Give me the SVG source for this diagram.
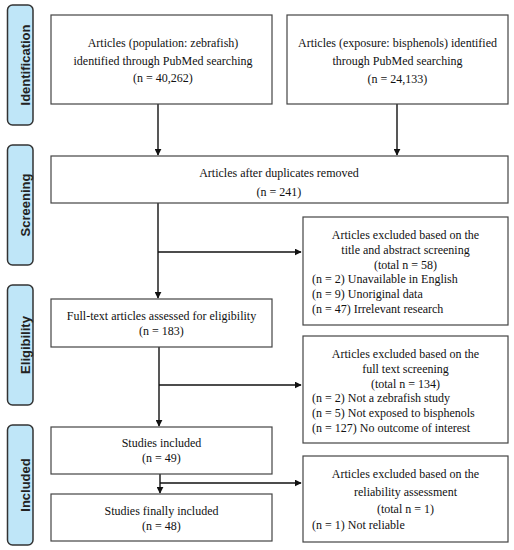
<svg xmlns="http://www.w3.org/2000/svg" width="514" height="550" viewBox="0 0 514 550">
<defs>
<style>
.box{fill:#fff;stroke:#444;stroke-width:1.2}
.side{fill:#bfe6f8;stroke:#333;stroke-width:1.5}
.t{font-family:"Liberation Serif","Times New Roman",serif;font-size:12px;fill:#111}
.c{text-anchor:middle}
.s{font-family:"Liberation Sans",Arial,sans-serif;font-size:13px;font-weight:bold;fill:#222;text-anchor:middle}
.ln{fill:none;stroke:#111;stroke-width:1.4}
</style>
<marker id="ah" viewBox="0 0 10 10" refX="9" refY="5" markerWidth="7" markerHeight="7" markerUnits="userSpaceOnUse" orient="auto">
<path d="M0,0 L10,5 L0,10 z" fill="#111"/>
</marker>
</defs>
<rect width="514" height="550" fill="#fff"/>

<g id="phase-identification"><rect class="side" x="7.5" y="5" width="25.5" height="120" rx="5"/><text class="s" transform="translate(29.5,65) rotate(-90)">Identification</text></g>
<g id="phase-screening"><rect class="side" x="7.5" y="145" width="25.5" height="120" rx="5"/><text class="s" transform="translate(29.5,205) rotate(-90)">Screening</text></g>
<g id="phase-eligibility"><rect class="side" x="7.5" y="285" width="25.5" height="120" rx="5"/><text class="s" transform="translate(29.5,345) rotate(-90)">Eligibility</text></g>
<g id="phase-included"><rect class="side" x="7.5" y="425" width="25.5" height="120" rx="5"/><text class="s" transform="translate(29.5,485) rotate(-90)">Included</text></g>

<g id="connectors">
<line class="ln" x1="158" y1="104" x2="158" y2="155" marker-end="url(#ah)"/>
<line class="ln" x1="397" y1="104" x2="397" y2="155" marker-end="url(#ah)"/>
<line class="ln" x1="158" y1="203" x2="158" y2="298" marker-end="url(#ah)"/>
<line class="ln" x1="158" y1="252" x2="301" y2="252" marker-end="url(#ah)"/>
<line class="ln" x1="159" y1="347" x2="159" y2="426" marker-end="url(#ah)"/>
<line class="ln" x1="159" y1="385" x2="301" y2="385" marker-end="url(#ah)"/>
<line class="ln" x1="160" y1="474" x2="160" y2="493" marker-end="url(#ah)"/>
<line class="ln" x1="160" y1="483" x2="301" y2="483" marker-end="url(#ah)"/>
</g>

<g id="node-pop"><rect class="box" x="51" y="15" width="221" height="89"/>
<text class="t c" x="163" y="47">Articles (population: zebrafish)</text>
<text class="t c" x="163" y="65">identified through PubMed searching</text>
<text class="t c" x="163" y="82">(n = 40,262)</text></g>

<g id="node-exp"><rect class="box" x="287" y="15" width="221" height="89"/>
<text class="t c" x="397.5" y="47">Articles (exposure: bisphenols) identified</text>
<text class="t c" x="397.5" y="65">through PubMed searching</text>
<text class="t c" x="397.5" y="83">(n = 24,133)</text></g>

<g id="node-dedup"><rect class="box" x="51" y="156" width="457" height="47"/>
<text class="t c" x="279" y="177">Articles after duplicates removed</text>
<text class="t c" x="279" y="196">(n = 241)</text></g>

<g id="node-excl1"><rect class="box" x="303" y="217" width="205" height="108"/>
<text class="t c" x="405.5" y="239">Articles excluded based on the</text>
<text class="t c" x="405.5" y="253.8">title and abstract screening</text>
<text class="t c" x="405.5" y="268.6">(total n = 58)</text>
<text class="t" x="312" y="283.4">(n = 2) Unavailable in English</text>
<text class="t" x="312" y="298.2">(n = 9) Unoriginal data</text>
<text class="t" x="312" y="313">(n = 47) Irrelevant research</text></g>

<g id="node-fulltext"><rect class="box" x="51" y="299" width="221" height="48"/>
<text class="t c" x="161.5" y="320">Full-text articles assessed for eligibility</text>
<text class="t c" x="161.5" y="335">(n = 183)</text></g>

<g id="node-excl2"><rect class="box" x="303" y="336" width="205" height="107"/>
<text class="t c" x="405.5" y="358">Articles excluded based on the</text>
<text class="t c" x="405.5" y="372.8">full text screening</text>
<text class="t c" x="405.5" y="387.6">(total n = 134)</text>
<text class="t" x="312" y="402.4">(n = 2) Not a zebrafish study</text>
<text class="t" x="312" y="417.2">(n = 5) Not exposed to bisphenols</text>
<text class="t" x="312" y="432">(n = 127) No outcome of interest</text></g>

<g id="node-included"><rect class="box" x="51" y="427" width="221" height="47"/>
<text class="t c" x="161.5" y="447">Studies included</text>
<text class="t c" x="161.5" y="462">(n = 49)</text></g>

<g id="node-excl3"><rect class="box" x="303" y="456" width="205" height="86"/>
<text class="t c" x="405.5" y="478">Articles excluded based on the</text>
<text class="t c" x="405.5" y="496">reliability assessment</text>
<text class="t c" x="405.5" y="513">(total n = 1)</text>
<text class="t" x="312" y="529">(n = 1) Not reliable</text></g>

<g id="node-final"><rect class="box" x="51" y="494" width="221" height="47"/>
<text class="t c" x="161.5" y="515">Studies finally included</text>
<text class="t c" x="161.5" y="530">(n = 48)</text></g>
</svg>
